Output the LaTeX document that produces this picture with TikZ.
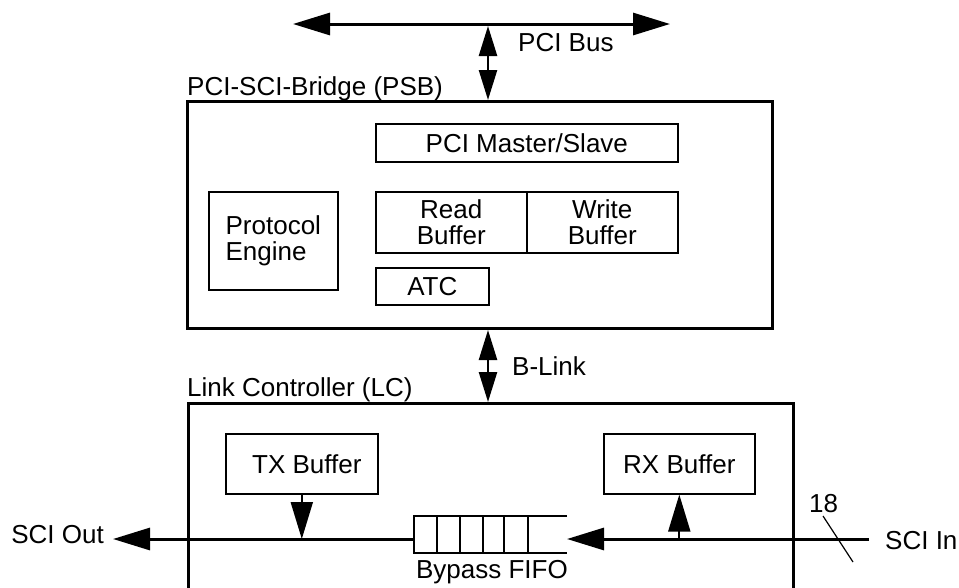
\documentclass[tikz,border=0pt]{standalone}
\usepackage{fontspec}
\setmainfont{Liberation Sans}
\usetikzlibrary{arrows.meta}
\begin{document}
\begin{tikzpicture}[x=1pt,y=-1pt,
  font=\fontsize{26}{26}\selectfont,
  bigbox/.style={draw, line width=3pt, anchor=north west, inner sep=0pt},
  smallbox/.style={draw, line width=1.6pt, anchor=north west, inner sep=0pt, align=center},
  lbl/.style={inner sep=0pt, anchor=base west},
  thickline/.style={line width=3pt},
  BT/.tip={Triangle[length=37pt,width=22pt]},
  ST/.tip={Triangle[length=30pt,width=18pt]}
]
\useasboundingbox (0,0) rectangle (959,587);
\clip (0,0) rectangle (959,587);

% PCI bus
\coordinate (busL) at (293,24);
\coordinate (busR) at (670,24);
\coordinate (ax) at (488,0);
\draw[thickline, {BT}-{BT}] (busL) -- (busR);
\node[lbl] (pcibus) at (518,51) {PCI Bus};

% PSB
\node[bigbox, minimum width=585pt, minimum height=227pt] (PSB) at (186,100) {};
\node[lbl] (psblbl) at (187,95) {PCI-SCI-Bridge (PSB)};
\draw[line width=2.5pt, {ST}-{ST}] (ax |- busL) ++(0,2) -- (ax |- PSB.north);

\node[smallbox, minimum width=302pt, minimum height=38pt] (PMS) at (375,123) {PCI Master/Slave};
\node[smallbox, minimum width=151pt, minimum height=61pt] (RB) at (375,191) {Read\\Buffer};
\node[smallbox, minimum width=151pt, minimum height=61pt] (WB) at (526,191) {Write\\Buffer};
\node[smallbox, minimum width=113pt, minimum height=37pt] (ATC) at (375,267) {ATC};
\node[smallbox, minimum width=129pt, minimum height=98pt, align=left] (PE) at (208,191) {Protocol\\Engine};

% LC
\node[bigbox, minimum width=605pt, minimum height=200pt] (LC) at (187,402) {};
\node[lbl] (lclbl) at (187,396) {Link Controller (LC)};
\draw[line width=2.5pt, {ST}-{ST}] (ax |- PSB.south) -- (ax |- LC.north);
\node[lbl] (blink) at (512,375) {B-Link};

\node[smallbox, minimum width=152pt, minimum height=60pt] (TX) at (225,433) {\hspace*{10pt}TX Buffer};
\node[smallbox, minimum width=151pt, minimum height=60pt] (RX) at (603,433) {RX Buffer};

% SCI line
\coordinate (sciin) at (869,539);
\coordinate (sciout) at (113,539);
\coordinate (fifoL) at (414,539);
\coordinate (fifoR) at (567,539);
\draw[thickline, -{BT}] (sciin) -- (fifoR);
\draw[thickline, -{BT}] (fifoL) -- (sciout);
\draw[line width=2pt, -{BT}] (TX.south) -- (TX.south |- sciout);
\draw[line width=2pt, -{BT}] (RX.south |- sciin) -- (RX.south);

% Bypass FIFO
\draw[line width=1.6pt] (567,516) -- (414,516) -- (414,553) -- (567,553);
\foreach \cx in {437,460,483,504,528} {
  \draw[line width=1.6pt] (\cx,516) -- (\cx,553);
}
\node[inner sep=0pt, anchor=base] (fifolbl) at (492,578) {Bypass FIFO};

% labels
\node[inner sep=0pt, anchor=base east] (outlbl) at (104,543) {SCI Out};
\node[lbl] (inlbl) at (885,549) {SCI In};
\node[lbl] (w18) at (809,512) {18};
\draw[line width=1.2pt] (823,516) -- (853,562);
\end{tikzpicture}
\end{document}
